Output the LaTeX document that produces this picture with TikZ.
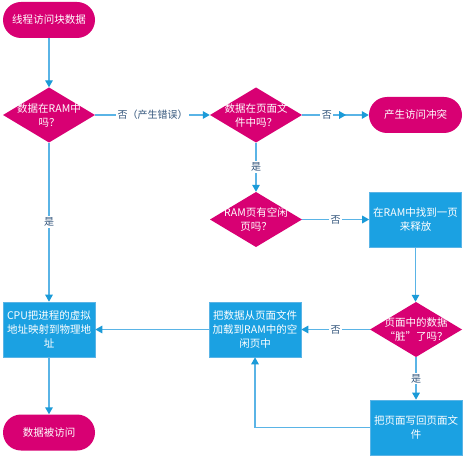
\documentclass[tikz,border=0pt]{standalone}
\usepackage{fontspec}
\setmainfont{Noto Sans CJK SC}
\usetikzlibrary{arrows.meta,decorations.markings}
\definecolor{mag}{HTML}{D80073}
\definecolor{boxblue}{HTML}{1BA1E2}
\definecolor{linec}{HTML}{5AB4E6}
\definecolor{tipc}{HTML}{1B9BD8}
\definecolor{lblc}{HTML}{35577D}
\begin{document}
\begin{tikzpicture}[x=1pt,y=-1pt,
  every node/.style={font=\fontsize{10.5}{14}\selectfont, text=white, align=center, inner sep=0pt},
  term/.style={rectangle, rounded corners=18pt, fill=mag, minimum width=92pt, minimum height=36pt},
  dia/.style={rectangle, minimum width=92pt, minimum height=55pt,
    path picture={\fill[mag] (path picture bounding box.north) -- (path picture bounding box.east)
      -- (path picture bounding box.south) -- (path picture bounding box.west) -- cycle;}},
  proc/.style={rectangle, fill=boxblue, draw=linec, line width=0.6pt, minimum width=92pt, minimum height=55pt},
  conn/.style={draw=linec, line width=1.4pt, -{Triangle[length=7pt,width=7.5pt,color=tipc]}},
  lbl/.style={fill=white, text=lblc, inner sep=1.5pt, font=\fontsize{10}{12}\selectfont},
  midtip/.style={postaction={decorate}, decoration={markings,
    mark=at position #1 with {\arrow{Triangle[length=7pt,width=7.5pt,color=tipc]}}}}
]
\useasboundingbox (0,0) rectangle (465,457);
\fill[white] (0,0) rectangle (465,457);

\node[term] (start) at (49,20) {线程访问块数据};
\node[dia] (d1) at (49,115) {数据在RAM中\\吗？};
\node[dia] (d2) at (256,115) {数据在页面文\\件中吗？};
\node[term, minimum width=93pt] (conflict) at (415.5,115) {产生访问冲突};
\node[dia] (d3) at (256,219.5) {RAM页有空闲\\页吗？};
\node[proc] (free) at (415.5,219.5) {在RAM中找到一页\\来释放};
\node[proc] (load) at (255,329.5) {把数据从页面文件\\加载到RAM中的空\\闲页中};
\node[dia] (d4) at (416,329.5) {页面中的数据\\“脏”了吗？};
\node[proc] (write) at (416,427.5) {把页面写回页面文\\件};
\node[proc] (cpu) at (49,329.5) {CPU把进程的虚拟\\地址映射到物理地\\址};
\node[term] (done) at (49,432.5) {数据被访问};

\draw[conn] (start) -- (d1);
\draw[conn] (d1.east) -- node[lbl] {否（产生错误）} (d2.west);
\draw[conn, midtip=0.66] (d2.east) -- node[lbl, pos=0.37] {否} (conflict.west);
\draw[conn] (d2.south) -- node[lbl] {是} (d3.north);
\draw[conn] (d3.east) -- node[lbl] {否} (free.west);
\draw[conn] (free.south) -- (free.south |- d4.north);
\draw[conn] (d4.west) -- node[lbl] {否} (load.east);
\draw[conn] (d4.south) -- node[lbl] {是} (write.north);
\draw[conn] (write.west) -| (load.south);
\draw[conn] (load.west) -- (cpu.east);
\draw[conn] (d1.south) -- node[lbl] {是} (cpu.north);
\draw[conn] (cpu.south) -- (done.north);
\end{tikzpicture}
\end{document}
